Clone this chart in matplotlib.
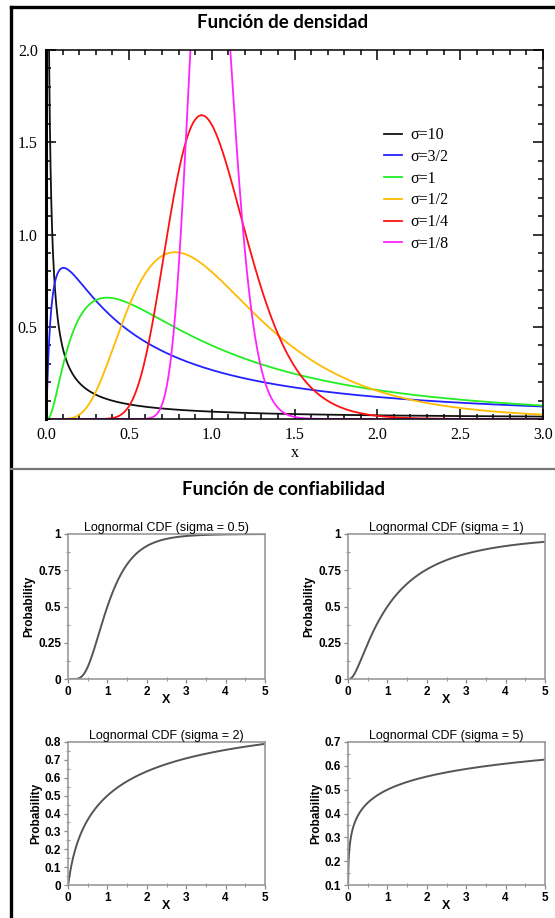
import numpy as np
import matplotlib
matplotlib.use('Agg')
import matplotlib.pyplot as plt
from matplotlib.lines import Line2D
from matplotlib.ticker import MultipleLocator, AutoMinorLocator
from math import erf

W, H = 555, 918

# densidad: sigma de cada curva, su etiqueta y color
pdf_sigmas = [10, 1.5, 1, 0.5, 0.25, 0.125]
pdf_labels = ['σ=10', 'σ=3/2', 'σ=1', 'σ=1/2', 'σ=1/4', 'σ=1/8']
pdf_colors = ['#111111', '#2222ff', '#22ee22', '#ffbb00', '#ff1111', '#ff22ff']

# confiabilidad: sigma, limites y ticks de cada panel
cdf_sigmas = [0.5, 1, 2, 5]
cdf_titles = ['Lognormal CDF (sigma = 0.5)', 'Lognormal CDF (sigma = 1)',
              'Lognormal CDF (sigma = 2)', 'Lognormal CDF (sigma = 5)']
cdf_ylims = [(0, 1), (0, 1), (0, 0.8), (0.1, 0.7)]
cdf_yticks = [[0, 0.25, 0.5, 0.75, 1], [0, 0.25, 0.5, 0.75, 1],
              [0, 0.1, 0.2, 0.3, 0.4, 0.5, 0.6, 0.7, 0.8],
              [0.1, 0.2, 0.3, 0.4, 0.5, 0.6, 0.7]]
cdf_yticklabels = [['0', '0.25', '0.5', '0.75', '1'], ['0', '0.25', '0.5', '0.75', '1'],
                   ['0', '0.1', '0.2', '0.3', '0.4', '0.5', '0.6', '0.7', '0.8'],
                   ['0.1', '0.2', '0.3', '0.4', '0.5', '0.6', '0.7']]
cdf_xticks = [0, 1, 2, 3, 4, 5]


def lognorm_pdf(x, s):
    return np.exp(-np.log(x) ** 2 / (2 * s * s)) / (x * s * np.sqrt(2 * np.pi))


def lognorm_cdf(x, s):
    return np.array([0.5 * (1 + erf(np.log(v) / (s * np.sqrt(2)))) for v in x])


def px_rect(l, t, r, b):
    return [l / W, 1 - b / H, (r - l) / W, (b - t) / H]


fig = plt.figure(figsize=(W / 100, H / 100), dpi=100)
fig.patch.set_facecolor('white')

# marco exterior y separador
fig.add_artist(Line2D([11 / W, 1], [1 - 7 / H, 1 - 7 / H], color='black', lw=2.4))
fig.add_artist(Line2D([11 / W, 11 / W], [0, 1 - 7 / H], color='black', lw=2.4))
fig.add_artist(Line2D([11 / W, 1], [1 - 469 / H, 1 - 469 / H], color='#777777', lw=1.6))

fig.text(283 / W, 1 - 22 / H, 'Función de densidad', ha='center', va='center',
         fontsize=13.5, fontweight='bold', family='Lato')
fig.text(283 / W, 1 - 490 / H, 'Función de confiabilidad', ha='center', va='center',
         fontsize=13.5, fontweight='bold', family='Lato')

# --- densidad ---
ax = fig.add_axes(px_rect(46, 50, 543, 419))
x = np.linspace(1e-4, 3, 6000)
for s, lab, c in zip(pdf_sigmas, pdf_labels, pdf_colors):
    ax.plot(x, lognorm_pdf(x, s), color=c, lw=1.3, label=lab)
ax.set_xlim(0, 3)
ax.set_ylim(0, 2)
ax.set_xticks(np.arange(0, 3.01, 0.5))
ax.set_xticklabels(['%.1f' % v for v in np.arange(0, 3.01, 0.5)])
ax.set_yticks([0.5, 1.0, 1.5, 2.0])
ax.set_yticklabels(['0.5', '1.0', '1.5', '2.0'])
ax.xaxis.set_minor_locator(MultipleLocator(0.1))
ax.yaxis.set_minor_locator(MultipleLocator(0.1))
ax.tick_params(which='both', direction='in', top=True, right=True, width=1.1)
ax.tick_params(which='major', length=7, labelsize=11.5, pad=6)
ax.tick_params(which='minor', length=3.5)
for lbl in ax.get_xticklabels() + ax.get_yticklabels():
    lbl.set_family('Liberation Serif')
for sp in ax.spines.values():
    sp.set_linewidth(1.1)
ax.spines['left'].set_linewidth(2.2)
ax.set_xlabel('x', family='Liberation Serif', fontsize=11.5, labelpad=1)
leg = ax.legend(loc='upper left', bbox_to_anchor=(0.652, 0.83), frameon=False,
                prop={'family': 'Liberation Serif', 'size': 11.5},
                handlelength=1.1, handletextpad=0.5, labelspacing=0.36)

# --- confiabilidad ---
rects = [(68, 534, 265, 679), (348, 534, 545, 679),
         (68, 742, 265, 885), (348, 742, 545, 885)]
xc = np.linspace(1e-4, 5, 2000)
for i, s in enumerate(cdf_sigmas):
    a = fig.add_axes(px_rect(*rects[i]))
    a.plot(xc, lognorm_cdf(xc, s), color='#555555', lw=1.4)
    a.set_xlim(0, 5)
    a.set_ylim(*cdf_ylims[i])
    a.set_xticks(cdf_xticks)
    a.set_xticklabels([str(v) for v in cdf_xticks])
    a.set_yticks(cdf_yticks[i])
    a.set_yticklabels(cdf_yticklabels[i])
    a.xaxis.set_minor_locator(AutoMinorLocator(2))
    a.yaxis.set_minor_locator(AutoMinorLocator(2))
    a.tick_params(which='major', direction='out', length=3, width=0.9, color='#888888',
                  labelsize=8.5, pad=2)
    a.tick_params(which='minor', direction='inout', length=3, width=0.8, color='#999999')
    for lbl in a.get_xticklabels() + a.get_yticklabels():
        lbl.set_family('Liberation Sans')
        lbl.set_fontweight('bold')
    for sp in a.spines.values():
        sp.set_color('#999999')
        sp.set_linewidth(1.2)
    a.set_title(cdf_titles[i], fontsize=9, family='Liberation Sans', pad=2)
    a.set_xlabel('X', fontsize=9, fontweight='bold', family='Liberation Sans', labelpad=-3)
    a.set_ylabel('Probability', fontsize=8.5, fontweight='bold', family='Liberation Sans',
                 labelpad=2)

fig.savefig('out.png', dpi=100)
